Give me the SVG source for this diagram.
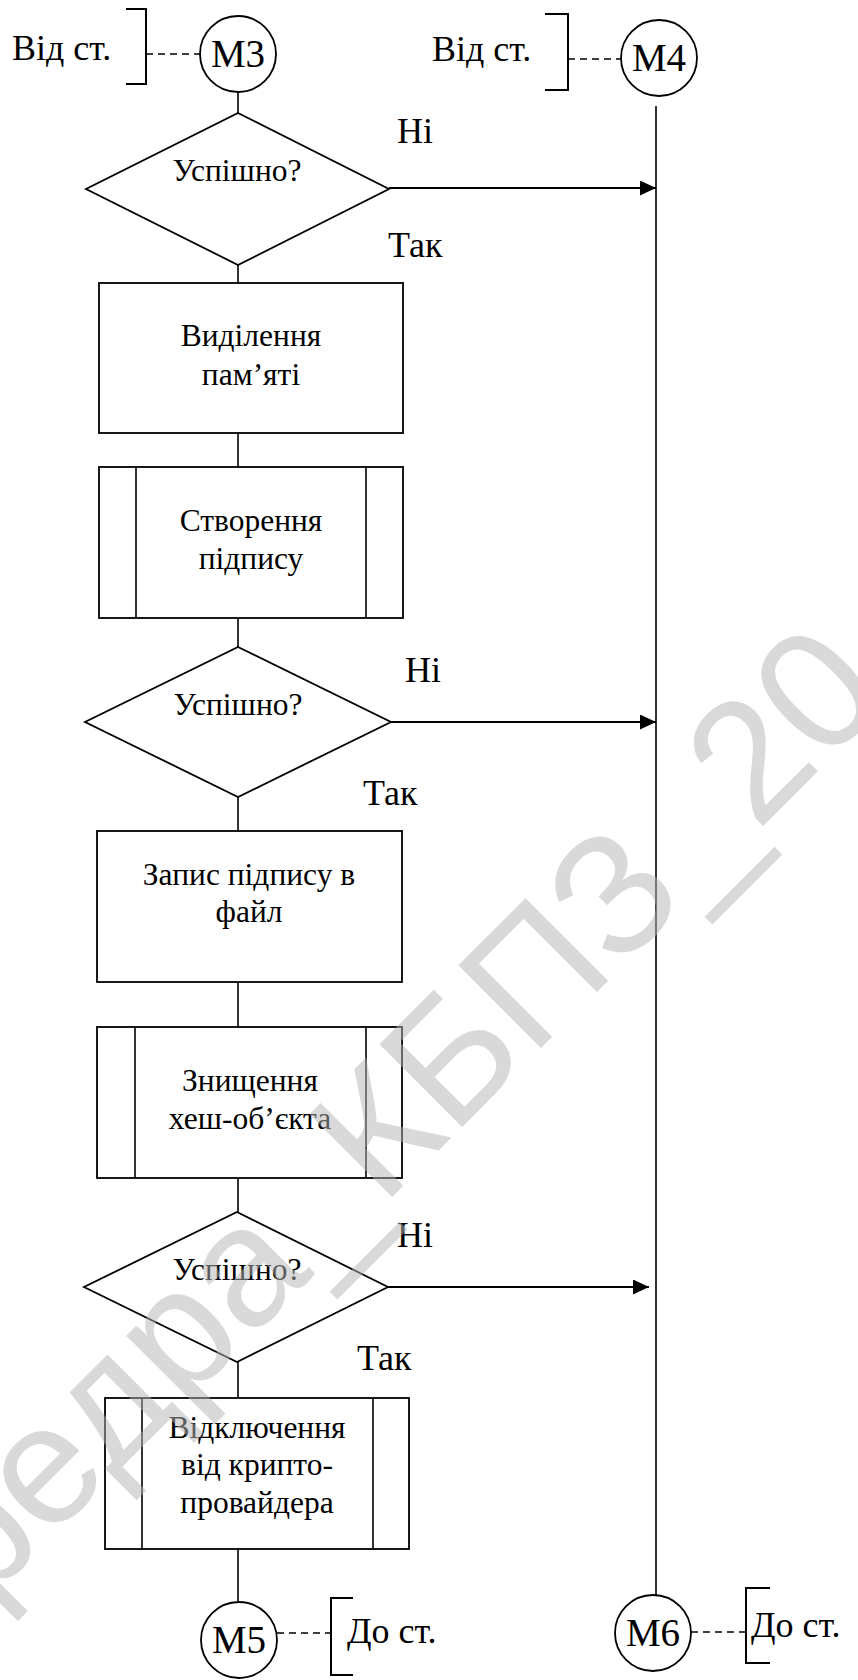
<svg xmlns="http://www.w3.org/2000/svg" width="858" height="1680" viewBox="0 0 858 1680">
  <style>
    .shape { fill: #ffffff; stroke: #000000; stroke-width: 1.8; }
    .line { fill: none; stroke: #000000; stroke-width: 1.6; }
    .flow { fill: none; stroke: #000000; stroke-width: 2; }
    .dash { fill: none; stroke: #000000; stroke-width: 1.6; stroke-dasharray: 7 5; }
    .bracket { fill: none; stroke: #000000; stroke-width: 2; }
    text { font-family: "Liberation Serif", "Times New Roman", serif; fill: #000000; }
    .box { font-size: 31.5px; text-anchor: middle; }
    .lbl { font-size: 36px; }
    .ref { font-size: 39px; text-anchor: middle; }
    text.wm { font-family: "Liberation Sans", Arial, sans-serif; font-size: 170px; fill: #b5b5b5; opacity: 0.5; }
  </style>
  <defs>
    <marker id="arrow" viewBox="0 0 16 15" refX="16" refY="7.5" markerWidth="16" markerHeight="15" markerUnits="userSpaceOnUse" orient="auto">
      <path d="M0,0 L16,7.5 L0,15 Z" fill="#000000"/>
    </marker>
  </defs>

  <rect width="858" height="1680" fill="#ffffff"/>

  <!-- connectors -->
  <g id="connectors">
    <line class="line" x1="238" y1="92" x2="238" y2="113"/>
    <line class="line" x1="238" y1="265" x2="238" y2="283"/>
    <line class="line" x1="238" y1="433" x2="238" y2="467"/>
    <line class="line" x1="238" y1="618" x2="238" y2="647"/>
    <line class="line" x1="238" y1="797" x2="238" y2="831"/>
    <line class="line" x1="238" y1="982" x2="238" y2="1027"/>
    <line class="line" x1="238" y1="1178" x2="238" y2="1212"/>
    <line class="line" x1="238" y1="1362" x2="238" y2="1398"/>
    <line class="line" x1="238" y1="1549" x2="238" y2="1602"/>
    <!-- right-hand bus from M4 down to M6 -->
    <line class="line" x1="656" y1="106" x2="656" y2="1595"/>
    <!-- "No" branches -->
    <line class="flow" x1="389" y1="188" x2="656" y2="188" marker-end="url(#arrow)"/>
    <line class="flow" x1="391" y1="722" x2="656" y2="722" marker-end="url(#arrow)"/>
    <line class="flow" x1="388" y1="1287" x2="649" y2="1287" marker-end="url(#arrow)"/>
    <!-- off-page links -->
    <line class="dash" x1="146" y1="54" x2="200" y2="54"/>
    <line class="dash" x1="568" y1="59" x2="621" y2="59"/>
    <line class="dash" x1="277" y1="1633" x2="331" y2="1633"/>
    <line class="dash" x1="691" y1="1632" x2="746" y2="1632"/>
    <!-- branch labels -->
    <text class="lbl" x="397" y="143">Ні</text>
    <text class="lbl" x="388" y="257">Так</text>
    <text class="lbl" x="405" y="682">Ні</text>
    <text class="lbl" x="363" y="805">Так</text>
    <text class="lbl" x="397" y="1247">Ні</text>
    <text class="lbl" x="357" y="1370">Так</text>
  </g>

  <!-- off-page reference M3 -->
  <g id="from-page-m3">
    <path class="bracket" d="M126,9 H146 V84 H126"/>
    <text class="lbl" x="12" y="60">Від ст.</text>
  </g>
  <g id="m3">
    <circle class="shape" cx="238" cy="54" r="38"/>
    <text class="ref" x="238" y="67">М3</text>
  </g>

  <!-- off-page reference M4 -->
  <g id="from-page-m4">
    <path class="bracket" d="M545,14 H568 V90 H545"/>
    <text class="lbl" x="432" y="61">Від ст.</text>
  </g>
  <g id="m4">
    <circle class="shape" cx="659" cy="58" r="38"/>
    <text class="ref" x="659" y="71">М4</text>
  </g>

  <g id="check-1">
    <polygon class="shape" points="238,113 389,189 238,265 86,189"/>
    <text class="box" x="237" y="181">Успішно?</text>
  </g>

  <g id="alloc-memory">
    <rect class="shape" x="99" y="283" width="304" height="150"/>
    <text class="box" x="251" y="346">Виділення</text>
    <text class="box" x="251" y="385">пам’яті</text>
  </g>

  <g id="create-signature">
    <rect class="shape" x="99" y="467" width="304" height="151"/>
    <line class="line" x1="136" y1="467" x2="136" y2="618"/>
    <line class="line" x1="366" y1="467" x2="366" y2="618"/>
    <text class="box" x="251" y="531">Створення</text>
    <text class="box" x="251" y="569">підпису</text>
  </g>

  <g id="check-2">
    <polygon class="shape" points="238,647 391,722 238,797 85,722"/>
    <text class="box" x="238" y="715">Успішно?</text>
  </g>

  <g id="write-signature">
    <rect class="shape" x="97" y="831" width="305" height="151"/>
    <text class="box" x="249" y="885">Запис підпису в</text>
    <text class="box" x="249" y="922">файл</text>
  </g>

  <g id="destroy-hash">
    <rect class="shape" x="97" y="1027" width="305" height="151"/>
    <line class="line" x1="135" y1="1027" x2="135" y2="1178"/>
    <line class="line" x1="366" y1="1027" x2="366" y2="1178"/>
    <text class="box" x="250" y="1091">Знищення</text>
    <text class="box" x="250" y="1129">хеш-об’єкта</text>
  </g>

  <g id="check-3">
    <polygon class="shape" points="237,1212 388,1287 237,1362 84,1287"/>
    <text class="box" x="237" y="1280">Успішно?</text>
  </g>

  <g id="release-provider">
    <rect class="shape" x="105" y="1398" width="304" height="151"/>
    <line class="line" x1="142" y1="1398" x2="142" y2="1549"/>
    <line class="line" x1="373" y1="1398" x2="373" y2="1549"/>
    <text class="box" x="257" y="1438">Відключення</text>
    <text class="box" x="257" y="1475">від крипто-</text>
    <text class="box" x="257" y="1513">провайдера</text>
  </g>

  <g id="m5">
    <circle class="shape" cx="239" cy="1640" r="38"/>
    <text class="ref" x="239" y="1653">М5</text>
  </g>
  <g id="to-page-m5">
    <path class="bracket" d="M353,1598 H331 V1675 H353"/>
    <text class="lbl" x="347" y="1643">До ст.</text>
  </g>

  <g id="m6">
    <circle class="shape" cx="653" cy="1633" r="38"/>
    <text class="ref" x="653" y="1646">М6</text>
  </g>
  <g id="to-page-m6">
    <path class="bracket" d="M770,1588 H746 V1663 H770"/>
    <text class="lbl" x="751" y="1637">До ст.</text>
  </g>

  <!-- department watermark across the sheet -->
  <text class="wm" transform="translate(757 832) rotate(-45)"><tspan x="0" text-anchor="end">Кафедра_КБПЗ_</tspan><tspan x="0" text-anchor="start">20</tspan></text>
</svg>
